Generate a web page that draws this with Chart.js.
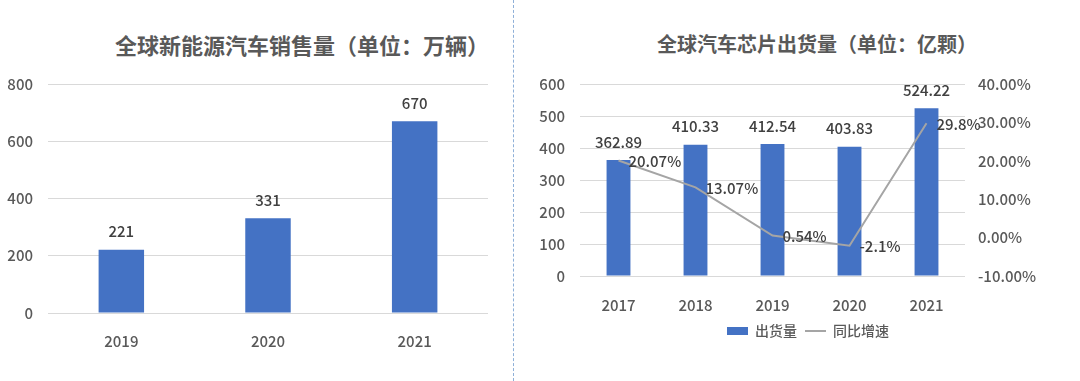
<!DOCTYPE html>
<html><head><meta charset="utf-8">
<script src="https://cdn.jsdelivr.net/npm/chart.js@4/dist/chart.umd.min.js"></script>
<style>
html,body{margin:0;padding:0;background:#fff;}
body{width:1080px;height:381px;position:relative;overflow:hidden;font-family:"Noto Sans CJK SC","Noto Sans",sans-serif;}
.t{position:absolute;top:28px;font-weight:bold;color:#595959;white-space:nowrap;transform:translateX(-50%);}
#sep{position:absolute;left:513px;top:0;height:381px;border-left:1px dashed #8fb0d8;}
#w1{position:absolute;left:0;top:0;width:510px;height:381px;}
#w2{position:absolute;left:520px;top:0;width:560px;height:381px;}
</style></head><body>
<div class="t" id="t1" style="left:302px;font-size:22px;">全球新能源汽车销售量（单位：万辆）</div>
<div class="t" id="t2" style="left:817px;font-size:20px;top:29px;">全球汽车芯片出货量（单位：亿颗）</div>
<div id="sep"></div>
<div id="w1"><canvas id="c1"></canvas></div>
<div id="w2"><canvas id="c2"></canvas></div>
<script>
// ---- data ----
const evYears = ['2019','2020','2021'];
const evSales = [221, 331, 670];
const evTicks = [0, 200, 400, 600, 800];

const chipYears = ['2017','2018','2019','2020','2021'];
const chipShipments = [362.89, 410.33, 412.54, 403.83, 524.22];
const chipGrowth = [20.07, 13.07, 0.54, -2.1, 29.8];
const chipGrowthLabels = ['20.07%','13.07%','0.54%','-2.1%','29.8%'];
const leftTicks = [0, 100, 200, 300, 400, 500, 600];
const rightTicks = [-10, 0, 10, 20, 30, 40];

const FONT = '"Noto Sans CJK SC","Noto Sans",sans-serif';
const BLUE = '#4472C4', GRAY = '#A5A5A5', GRID = '#D9D9D9', TICK = '#595959', LBL = '#404040';
const TF = { size: 15, weight: '500' };

const labelPlugin = {
  id: 'vlabels',
  afterDatasetsDraw(chart) {
    const ctx = chart.ctx;
    chart.data.datasets.forEach((ds, i) => {
      const meta = chart.getDatasetMeta(i);
      ctx.save();
      ctx.font = '500 15px ' + FONT;
      ctx.fillStyle = LBL;
      meta.data.forEach((el, j) => {
        if (meta.type === 'bar') {
          ctx.textAlign = 'center'; ctx.textBaseline = 'middle';
          ctx.fillText(ds.valueLabels ? ds.valueLabels[j] : String(ds.data[j]), el.x, el.y - 18);
        } else {
          ctx.textAlign = 'left'; ctx.textBaseline = 'middle';
          ctx.fillText(ds.valueLabels[j], el.x + 10, el.y + 1);
        }
      });
      ctx.restore();
    });
  }
};

Chart.defaults.font.family = FONT;
Chart.defaults.animation = false;

new Chart(document.getElementById('c1'), {
  type: 'bar',
  data: { labels: evYears, datasets: [{ data: evSales, backgroundColor: BLUE, categoryPercentage: 1, barPercentage: 0.31 }] },
  options: {
    responsive: true, maintainAspectRatio: false,
    layout: { padding: { top: 84, right: 22, bottom: 0, left: 0 } },
    plugins: { legend: { display: false }, tooltip: { enabled: false } },
    scales: {
      x: { grid: { display: false }, border: { display: false },
           ticks: { color: TICK, font: TF, padding: 11 },
           afterFit: s => { s.height = 68; } },
      y: { min: 0, max: 800, afterBuildTicks: s => { s.ticks = evTicks.map(v => ({ value: v })); },
           grid: { color: GRID, drawTicks: false }, border: { display: false },
           ticks: { color: TICK, font: TF, padding: 15 },
           afterFit: s => { s.width = 48; } }
    }
  },
  plugins: [labelPlugin]
});

new Chart(document.getElementById('c2'), {
  data: {
    labels: chipYears,
    datasets: [
      { type: 'bar', label: '出货量', data: chipShipments, backgroundColor: BLUE, yAxisID: 'y',
        categoryPercentage: 1, barPercentage: 0.31, order: 1, pointStyle: 'rect',
        valueLabels: chipShipments.map(v => v.toFixed(2)) },
      { type: 'line', label: '同比增速', data: chipGrowth, borderColor: GRAY, backgroundColor: GRAY,
        borderWidth: 2, pointRadius: 0, tension: 0, yAxisID: 'y1', order: 0, pointStyle: 'line',
        valueLabels: chipGrowthLabels }
    ]
  },
  options: {
    responsive: true, maintainAspectRatio: false,
    layout: { padding: { top: 84, right: 0, bottom: 33, left: 16 } },
    plugins: {
      tooltip: { enabled: false },
      legend: { position: 'bottom',
        labels: { usePointStyle: true, pointStyleWidth: 21, boxHeight: 8, color: TICK,
                  font: { size: 14, weight: '500' }, padding: 8,
                  sort: (a, b) => a.datasetIndex - b.datasetIndex } }
    },
    scales: {
      x: { grid: { display: false }, border: { display: false },
           ticks: { color: TICK, font: TF, padding: 12 },
           afterFit: s => { s.height = 40; } },
      y: { position: 'left', min: 0, max: 600,
           afterBuildTicks: s => { s.ticks = leftTicks.map(v => ({ value: v })); },
           grid: { color: GRID, drawTicks: false }, border: { display: false },
           ticks: { color: TICK, font: TF, padding: 15 },
           afterFit: s => { s.width = 44; } },
      y1: { position: 'right', min: -10, max: 40,
           afterBuildTicks: s => { s.ticks = rightTicks.map(v => ({ value: v })); },
           grid: { display: false, drawTicks: false }, border: { display: false },
           ticks: { color: TICK, font: TF, padding: 13, callback: v => v.toFixed(2) + '%' },
           afterFit: s => { s.width = 115; } }
    }
  },
  plugins: [labelPlugin]
});
</script>
</body></html>
